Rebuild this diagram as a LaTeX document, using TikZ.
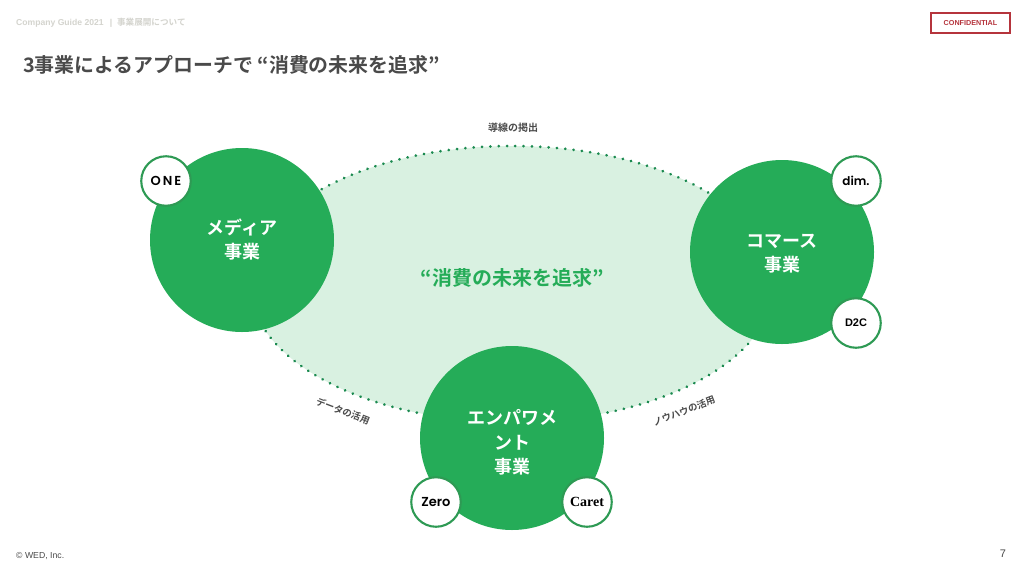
\documentclass[tikz,border=0pt]{standalone}
\usetikzlibrary{decorations.markings}
\usepackage{fontspec}
\setmainfont{Liberation Sans}
\newfontfamily\jp{Noto Sans CJK JP}[BoldFont={* Bold}]
\newfontfamily\popb{Poppins}[BoldFont={* SemiBold}]
\newfontfamily\libserif{Liberation Serif}
\definecolor{wgreen}{HTML}{25AC58}
\definecolor{ringgreen}{HTML}{2E9A54}
\definecolor{paleg}{HTML}{D9F1E1}
\definecolor{dotg}{HTML}{1B8A50}
\definecolor{ttl}{HTML}{4A4A4A}
\definecolor{hdr}{HTML}{D4D4CE}
\definecolor{conf}{HTML}{B5343C}
\newcommand{\bigtxt}[2]{\raisebox{#1}[0pt][0pt]{\begin{tabular}{@{}c@{}}#2\end{tabular}}}
\tikzset{
  x=1pt,y=-1pt,
  bigc/.style={circle,fill=wgreen,minimum size=184pt,inner sep=0pt,align=center,text=white,font=\jp\bfseries\fontsize{18}{24.5}\selectfont},
  logoc/.style={circle,draw=ringgreen,line width=2.1pt,fill=white,minimum size=49.5pt,inner sep=0pt,text=black},
  lab/.style={inner sep=0pt,text=ttl,font=\jp\bfseries\fontsize{9.4}{12}\selectfont},
  dotring/.style={decoration={markings,mark=between positions 0 and 1 step 8.35pt with {\fill[dotg] (0,0) circle [radius=1.5pt];}},decorate},
}
\begin{document}
\begin{tikzpicture}
\useasboundingbox (0,0) rectangle (1024,576);
\fill[white] (0,0) rectangle (1024,576);
\path[fill=paleg] (512,284) ellipse [x radius=262,y radius=138];
\path[dotring] (512,284) ellipse [x radius=262,y radius=138];
\node[inner sep=0pt,anchor=west,text=hdr,font=\bfseries\fontsize{8.6}{11}\selectfont] (head) at (16,22.5) {Company Guide 2021 \ \,|\ \ {\jp\fontsize{8.6}{11}\selectfont 事業展開について}};
\node[draw=conf,line width=1.4pt,minimum width=79pt,minimum height=20pt,inner sep=0pt,text=conf,font=\bfseries\fontsize{7.2}{9}\selectfont] (confb) at (970.5,23) {CONFIDENTIAL};
\node[inner sep=0pt,anchor=west,text=ttl,font=\jp\bfseries\fontsize{19.9}{23}\selectfont] (title) at (23,65) {3事業によるアプローチで “消費の未来を追求”};
\node[lab,font=\jp\bfseries\fontsize{10}{12}\selectfont] (top) at (513,128) {導線の掲出};
\node[lab,rotate=-21] (dl) at (343,411) {データの活用};
\node[lab,rotate=21] (nl) at (684,411) {ノウハウの活用};
\node[inner sep=0pt,text=wgreen,font=\jp\bfseries\fontsize{20}{23}\selectfont] (mid) at (512,278) {“消費の未来を追求”};
\node[bigc] (media) at (242,240) {\bigtxt{-6pt}{メディア\\事業}};
\node[bigc] (comm) at (782,252) {\bigtxt{-7pt}{コマース\\事業}};
\node[bigc] (emp) at (512,438) {\bigtxt{-10.5pt}{エンパワメ\\ント\\事業}};
\node[logoc,font=\popb\bfseries\fontsize{13}{15}\selectfont] (one) at (166,181) {O\kern2pt N\kern2pt E};
\node[logoc,font=\popb\bfseries\fontsize{12}{15}\selectfont] (dim) at (856,181) {dim.};
\node[logoc,font=\bfseries\fontsize{11}{13}\selectfont] (d2c) at (856,323) {D2C};
\node[logoc,font=\popb\bfseries\fontsize{13}{15}\selectfont] (zero) at (436,502) {Zero};
\node[logoc,font=\libserif\bfseries\fontsize{14}{16}\selectfont] (caret) at (587,502) {Caret};
\node[inner sep=0pt,anchor=west,text=ttl,font=\fontsize{8.7}{11}\selectfont] (foot) at (16,556) {© WED, Inc.};
\node[inner sep=0pt,text=ttl,font=\fontsize{11}{13}\selectfont] (page) at (1003,554) {7};
\end{tikzpicture}
\end{document}
